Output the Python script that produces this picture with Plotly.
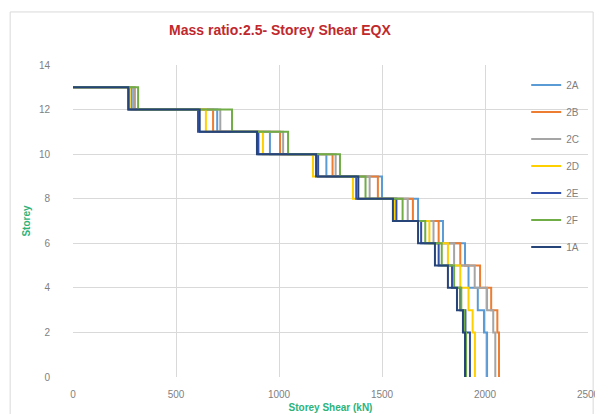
import plotly.graph_objects as go

# Storey levels (top to bottom) and storey shear (kN) per storey, storey 13 -> storey 1
storeys = [13, 12, 11, 10, 9, 8, 7, 6, 5, 4, 3, 2, 1, 0]
series_names = ["2A", "2B", "2C", "2D", "2E", "2F", "1A"]

shear_2A = [285, 700, 956, 1230, 1500, 1675, 1796, 1903, 1920, 1965, 1995, 2010, 2010]
shear_2B = [300, 680, 1005, 1260, 1480, 1650, 1775, 1880, 1976, 2030, 2060, 2068, 2068]
shear_2C = [295, 715, 1020, 1275, 1440, 1625, 1750, 1850, 1950, 2010, 2040, 2050, 2050]
shear_2D = [275, 645, 922, 1165, 1359, 1560, 1730, 1820, 1880, 1920, 1940, 1951, 1951]
shear_2E = [270, 607, 900, 1190, 1375, 1570, 1690, 1775, 1840, 1880, 1905, 1927, 1927]
shear_2F = [316, 772, 1044, 1296, 1420, 1600, 1710, 1790, 1850, 1885, 1900, 1908, 1908]
shear_1A = [268, 615, 893, 1180, 1385, 1553, 1675, 1757, 1820, 1864, 1893, 1903, 1903]

colors = ["#5B9BD5", "#ED7D31", "#A5A5A5", "#FFD000", "#2F4FA8", "#70AD47", "#264478"]
all_shear = [shear_2A, shear_2B, shear_2C, shear_2D, shear_2E, shear_2F, shear_1A]

fig = go.Figure()
for name, vals, col in zip(series_names, all_shear, colors):
    fig.add_trace(go.Scatter(
        x=[0] + vals, y=storeys, mode="lines", name=name,
        line=dict(color=col, width=2, shape="hv"),
        legendgroup=name,
    ))

fig.update_layout(
    width=603, height=414,
    margin=dict(l=65, r=23, t=57, b=45),
    paper_bgcolor="white", plot_bgcolor="white",
    font=dict(family="Liberation Sans, Arial, sans-serif", size=10, color="#7F7F7F"),
    title=dict(text="<b>Mass ratio:2.5- Storey Shear EQX</b>", x=0.451, xanchor="center",
               y=0.947, yanchor="middle",
               font=dict(size=14, color="#C0282D", family="Liberation Sans, Arial, sans-serif")),
    xaxis=dict(range=[0, 2500], tick0=0, dtick=500, showgrid=True, gridcolor="#D9D9D9",
               gridwidth=1, zeroline=False, showline=False, ticks="", automargin=False,
               ticklabelstandoff=10,
               title=dict(text="<b>Storey Shear (kN)</b>", standoff=4,
                          font=dict(size=10, color="#2DB37A"))),
    yaxis=dict(range=[0, 14], tick0=0, dtick=2, showgrid=True, gridcolor="#D9D9D9",
               gridwidth=1, zeroline=False, showline=False, ticks="", automargin=False,
               ticklen=0, ticklabelstandoff=22,
               title=dict(text="<b>Storey</b>", standoff=6,
                          font=dict(size=10, color="#2DB37A"))),
    legend=dict(x=0.88, y=0.982, xanchor="left", yanchor="top",
                bgcolor="rgba(255,255,255,0)", tracegroupgap=8,
                font=dict(size=10, color="#7F7F7F")),
    shapes=[dict(type="rect", xref="paper", yref="paper",
                 x0=-0.122, x1=1.01, y0=-0.13, y1=1.17,
                 line=dict(color="#D9D9D9", width=1), fillcolor="rgba(0,0,0,0)",
                 layer="below")],
)

fig.write_html("out.html")
